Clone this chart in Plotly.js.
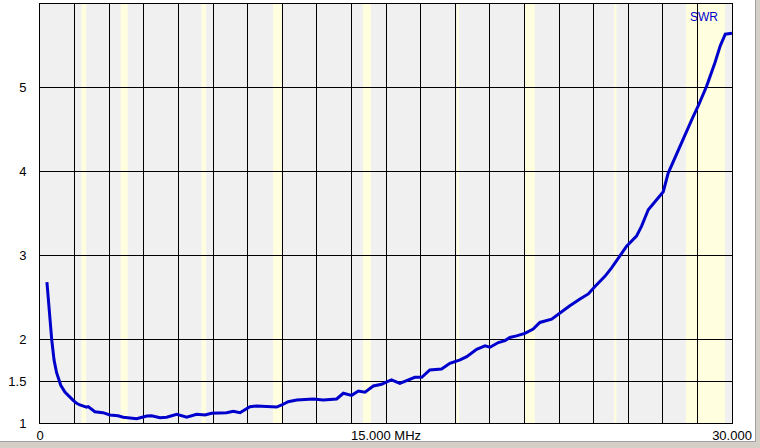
<!DOCTYPE html>
<html>
<head>
<meta charset="utf-8">
<script src="https://cdn.plot.ly/plotly-3.0.1.min.js"></script>
<style>
html,body{margin:0;padding:0;background:#d4d0c8;overflow:hidden;}
#frame{position:absolute;left:0;top:0;width:755px;height:441px;background:#ffffff;border-right:1px solid #a0a0a0;border-bottom:1px solid #a0a0a0;}
#chart{position:absolute;left:0;top:0;width:760px;height:448px;}
</style>
</head>
<body>
<div id="frame"></div>
<div id="chart"></div>
<script>
// Frequency (MHz) and SWR values
var freqMHz = [0.30,0.36,0.43,0.51,0.61,0.72,0.90,1.08,1.44,1.59,1.73,2.02,2.09,2.38,2.73,3.03,3.38,3.61,4.19,4.63,4.84,5.20,5.49,5.93,6.36,6.79,7.15,7.44,8.09,8.38,8.67,9.10,9.39,10.26,10.48,10.76,11.13,11.85,12.28,12.86,13.15,13.51,13.80,14.09,14.45,14.81,15.03,15.24,15.60,16.04,16.25,16.55,16.90,17.41,17.77,18.21,18.50,18.93,19.29,19.51,19.87,20.16,20.37,20.66,21.02,21.38,21.67,22.18,22.61,22.97,23.41,23.77,24.06,24.49,24.78,25.14,25.43,25.86,26.08,26.37,26.66,27.02,27.23,27.45,27.67,27.88,28.08,28.29,28.53,28.90,29.26,29.49,29.71,30.00];
var swr = [2.68,2.47,2.23,1.99,1.75,1.60,1.45,1.37,1.27,1.235,1.215,1.19,1.195,1.135,1.123,1.096,1.087,1.068,1.051,1.084,1.087,1.063,1.068,1.104,1.068,1.104,1.096,1.115,1.123,1.14,1.123,1.195,1.203,1.19,1.215,1.254,1.275,1.287,1.275,1.287,1.355,1.33,1.382,1.367,1.442,1.462,1.49,1.514,1.474,1.522,1.546,1.546,1.633,1.645,1.713,1.753,1.792,1.88,1.92,1.904,1.96,1.983,2.02,2.04,2.07,2.12,2.20,2.24,2.33,2.40,2.48,2.54,2.63,2.75,2.85,2.99,3.11,3.23,3.35,3.545,3.64,3.76,3.98,4.12,4.24,4.38,4.52,4.64,4.78,5.02,5.30,5.50,5.64,5.65];

// Amateur bands highlighted (MHz)
var bandStart = [1.8, 3.5, 7.0, 10.1, 14.0, 18.068, 21.0, 24.89, 28.0];
var bandEnd   = [2.0, 3.8, 7.2, 10.48, 14.35, 18.168, 21.45, 24.99, 29.7];

// Axis ticks
var xGridVals = [];
for (var i = 0; i <= 20; i++) xGridVals.push(i * 1.5);
var xTickLabels = xGridVals.map(function(v){
  if (v === 0) return '0';
  if (v === 15) return '15.000 MHz';
  if (v === 30) return '30.000';
  return '';
});
var yTickVals = [1, 1.5, 2, 3, 4, 5];
var yTickText = ['1', '1.5', '2', '3', '4', '5'];

var shapes = bandStart.map(function(s, k){
  return {type:'rect', xref:'x', yref:'paper', x0:s, x1:bandEnd[k], y0:0, y1:1,
          fillcolor:'#ffffe0', line:{width:0}, layer:'below'};
});

var trace = {
  x: freqMHz, y: swr, type:'scatter', mode:'lines',
  line:{color:'#0000cc', width:3}, hoverinfo:'skip'
};

var layout = {
  width:760, height:448,
  margin:{l:40, r:28, t:4, b:25, pad:0},
  paper_bgcolor:'rgba(0,0,0,0)', plot_bgcolor:'#f0f0f0',
  showlegend:false,
  font:{family:'Liberation Sans, Arial, sans-serif', size:13, color:'#000'},
  xaxis:{range:[0,30], tickmode:'array', tickvals:xGridVals, ticktext:xTickLabels,
    showgrid:true, gridcolor:'#000', gridwidth:1, zeroline:false,
    showline:true, linecolor:'#000', linewidth:1, mirror:true,
    ticks:'', ticklabelstandoff:0, fixedrange:true},
  yaxis:{range:[1,6], tickmode:'array', tickvals:yTickVals, ticktext:yTickText,
    showgrid:true, gridcolor:'#000', gridwidth:1, zeroline:false,
    showline:true, linecolor:'#000', linewidth:1, mirror:true,
    ticks:'outside', ticklen:10, tickcolor:'rgba(0,0,0,0)', fixedrange:true},
  shapes: shapes,
  annotations:[{text:'SWR', xref:'paper', yref:'paper', x:0.96, y:0.99, xanchor:'center', yanchor:'top',
    showarrow:false, font:{color:'#0000cc', size:12, family:'Liberation Sans, Arial, sans-serif'}}]
};

Plotly.newPlot('chart', [trace], layout, {displayModeBar:false, staticPlot:true});
</script>
</body>
</html>
